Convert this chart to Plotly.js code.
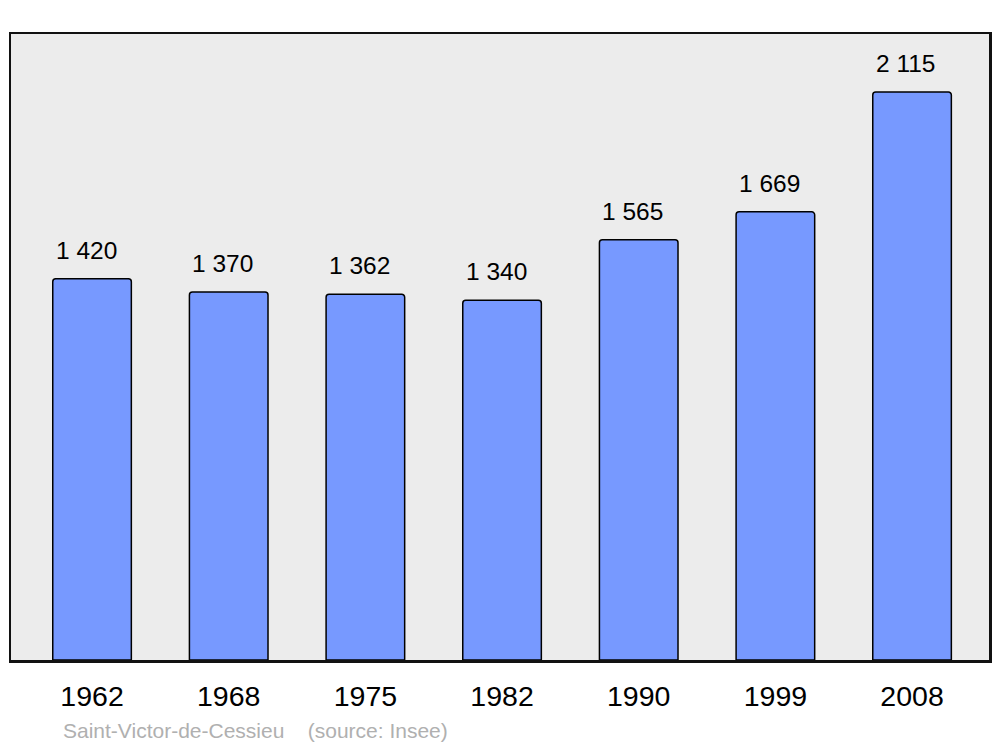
<!DOCTYPE html>
<html><head><meta charset="utf-8">
<script src="https://cdn.plot.ly/plotly-3.0.1.min.js"></script>
<style>html,body{margin:0;padding:0;background:#fff}#c{width:1000px;height:747px}</style>
</head><body><div id="c"></div>
<script>
const years = ["1962","1968","1975","1982","1990","1999","2008"];
const population = [1420,1370,1362,1340,1565,1669,2115];
const footer = "Saint-Victor-de-Cessieu    (source: Insee)";

const idx = years.map((_, i) => i);
const fmt = v => String(v).replace(/\B(?=(\d{3})+(?!\d))/g, " ");

const trace = {
  type: "bar", x: idx, y: population, width: 0.575,
  marker: {color: "#7799ff", line: {color: "#000", width: 1.5}, cornerradius: 3},
  hoverinfo: "none"
};
const ann = idx.map(i => ({
  x: i, y: population[i], xref: "x", yref: "y", text: fmt(population[i]),
  showarrow: false, yanchor: "bottom", yshift: 13, xshift: -6,
  font: {family: "Liberation Sans, Arial, sans-serif", size: 24.5, color: "#000"}
}));
ann.push({
  xref: "paper", yref: "paper", x: 0.051, y: -0.112, xanchor: "left", yanchor: "middle",
  text: footer.replace(/ {2,}/g, m => "&nbsp;".repeat(m.length)), showarrow: false,
  font: {family: "Liberation Sans, Arial, sans-serif", size: 21, color: "#b0b0b0"}
});
const layout = {
  width: 1000, height: 747,
  margin: {l: 11, r: 11, t: 34, b: 87},
  paper_bgcolor: "#fff", plot_bgcolor: "#ececec",
  showlegend: false,
  xaxis: {range: [-0.593, 6.563], tickvals: idx, ticktext: years, showgrid: false, zeroline: false,
    showline: true, mirror: true, linecolor: "#111", linewidth: 2.5, ticks: "", ticklen: 0,
    ticklabelstandoff: 9,
    tickfont: {family: "Liberation Sans, Arial, sans-serif", size: 28.5, color: "#000"}, fixedrange: true},
  yaxis: {range: [0, 2331], showgrid: false, zeroline: false, showticklabels: false, ticks: "",
    showline: true, mirror: true, linecolor: "#111", linewidth: 2.5, fixedrange: true},
  annotations: ann
};
Plotly.newPlot("c", [trace], layout, {displayModeBar: false, staticPlot: true});
</script></body></html>
